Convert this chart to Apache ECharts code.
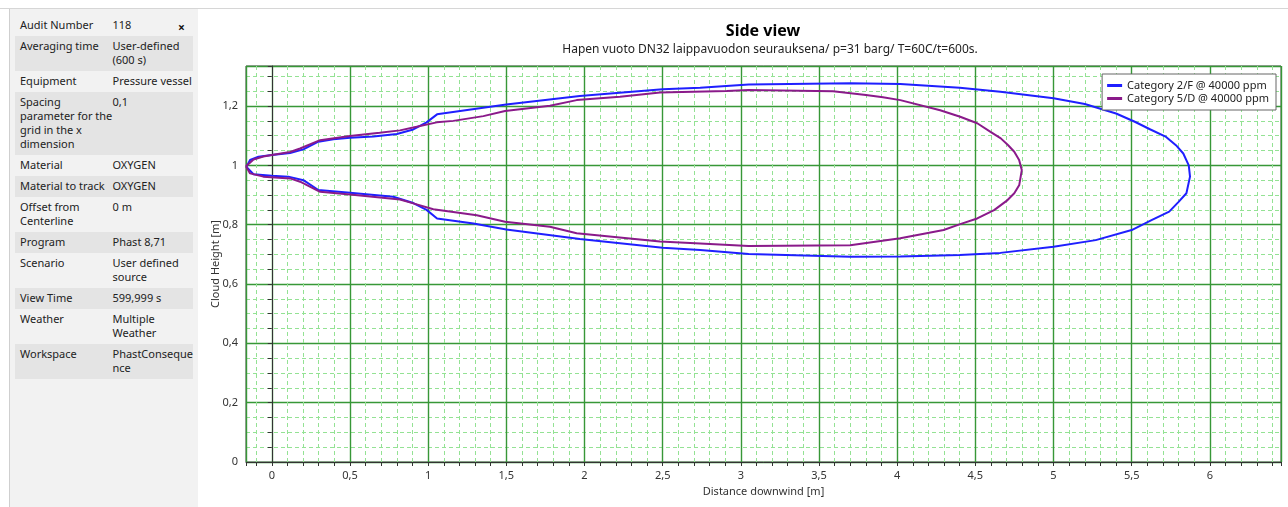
<!DOCTYPE html>
<html>
<head>
<meta charset="utf-8">
<title>Side view</title>
<script src="https://cdn.jsdelivr.net/npm/echarts@6/dist/echarts.min.js"></script>
<style>
  html, body { margin: 0; padding: 0; background: #fff; }
  body { width: 1288px; height: 507px; position: relative; overflow: hidden; font-family: "Noto Sans", sans-serif; }
  #topline { position: absolute; left: 0; top: 8px; width: 1288px; height: 1px; background: #d6d6d6; }
  #panel { position: absolute; left: 9px; top: 9px; width: 188px; height: 498px; background: #f2f2f2; border-left: 1px solid #cfcfcf; z-index: 2; }
  #info { position: absolute; left: 5px; top: 6px; width: 178px; border-collapse: collapse; font-size: 11px; line-height: 14px; color: #222; }
  #info td { vertical-align: top; padding: 3px 0 0 5px; white-space: nowrap; }
  #info td.v { padding-left: 0; }
  #info tr.g { background: #e4e4e4; }
  #close { position: absolute; left: 168px; top: 10px; font-size: 12px; font-weight: bold; color: #111; }
  #chart { position: absolute; left: 0; top: 0; width: 1288px; height: 507px; }
</style>
</head>
<body>
<div id="chart"></div>
<div id="topline"></div>
<div id="panel"><table id="info"></table><div id="close">×</div></div>
<script>
// info panel rows
const infoLabels = ['Audit Number', 'Averaging time', 'Equipment', 'Spacing\nparameter for the\ngrid in the x\ndimension',
  'Material', 'Material to track', 'Offset from\nCenterline', 'Program', 'Scenario', 'View Time', 'Weather', 'Workspace'];
const infoValues = ['118', 'User-defined\n(600 s)', 'Pressure vessel', '0,1', 'OXYGEN', 'OXYGEN', '0 m',
  'Phast 8,71', 'User defined\nsource', '599,999 s', 'Multiple\nWeather', 'PhastConseque\nnce'];

// Category 2/F contour (upper edge left->right, then lower edge back)
const cat2fX = [-0.162, -0.139, -0.085, 0, 0.117, 0.202, 0.298, 0.394, 0.5, 0.65, 0.8, 0.905, 0.99, 1.057, 1.5, 1.97,
  2.5, 2.74, 3.05, 3.7, 4.02, 4.4, 4.66, 5.0, 5.2, 5.4, 5.52, 5.62, 5.72, 5.783, 5.83, 5.865, 5.873, 5.85, 5.80, 5.74,
  5.63, 5.5, 5.27, 5.0, 4.66, 4.4, 4.02, 3.7, 3.05, 2.74, 2.5, 1.97, 1.5, 1.29, 1.057, 0.99, 0.905, 0.777, 0.5, 0.298,
  0.202, 0.106, 0, -0.117, -0.162];
const cat2fY = [0.995, 1.018, 1.029, 1.035, 1.042, 1.054, 1.080, 1.088, 1.093, 1.097, 1.106, 1.121, 1.145, 1.172, 1.205,
  1.234, 1.257, 1.262, 1.273, 1.277, 1.274, 1.262, 1.248, 1.226, 1.207, 1.175, 1.147, 1.121, 1.096, 1.068, 1.040, 1.0,
  0.962, 0.906, 0.877, 0.844, 0.816, 0.782, 0.748, 0.726, 0.705, 0.698, 0.693, 0.692, 0.701, 0.715, 0.722, 0.752,
  0.784, 0.804, 0.821, 0.850, 0.873, 0.894, 0.908, 0.917, 0.950, 0.962, 0.965, 0.970, 0.995];

// Category 5/D contour
const cat5dX = [-0.165, -0.117, -0.054, 0, 0.117, 0.181, 0.309, 0.5, 0.69, 0.82, 0.926, 1.055, 1.161, 1.353, 1.492,
  1.779, 1.95, 2.227, 2.483, 2.909, 3.05, 3.59, 3.80, 3.909, 4.02, 4.275, 4.403, 4.512, 4.597, 4.663, 4.71, 4.749,
  4.78, 4.797, 4.781, 4.749, 4.706, 4.62, 4.512, 4.403, 4.297, 4.02, 3.70, 3.05, 2.74, 2.483, 1.95, 1.779, 1.492,
  1.311, 1.033, 0.905, 0.82, 0.5, 0.309, 0.181, 0.117, -0.054, -0.139, -0.165];
const cat5dY = [0.997, 1.020, 1.030, 1.035, 1.045, 1.057, 1.085, 1.099, 1.110, 1.118, 1.130, 1.145, 1.150, 1.166,
  1.183, 1.201, 1.220, 1.231, 1.246, 1.251, 1.254, 1.250, 1.237, 1.230, 1.220, 1.186, 1.164, 1.142, 1.113, 1.091,
  1.068, 1.046, 1.018, 0.984, 0.934, 0.906, 0.883, 0.849, 0.821, 0.802, 0.782, 0.754, 0.731, 0.728, 0.737, 0.743,
  0.771, 0.793, 0.810, 0.832, 0.852, 0.872, 0.885, 0.902, 0.911, 0.945, 0.956, 0.962, 0.973, 0.997];

const seriesNames = ['Category 2/F @ 40000 ppm', 'Category 5/D @ 40000 ppm'];

// build the info table
const table = document.getElementById('info');
infoLabels.forEach((lab, i) => {
  const lines = Math.max(lab.split('\n').length, infoValues[i].split('\n').length);
  const tr = document.createElement('tr');
  if (i % 2 === 1) tr.className = 'g';
  tr.style.height = (lines === 1 ? 21 : lines * 14 + 7) + 'px';
  const a = document.createElement('td');
  a.style.width = '93px';
  a.innerHTML = lab.split('\n').join('<br>');
  const b = document.createElement('td');
  b.className = 'v';
  b.innerHTML = infoValues[i].split('\n').join('<br>');
  tr.appendChild(a); tr.appendChild(b);
  table.appendChild(tr);
});

const zip = (xs, ys) => xs.map((x, i) => [x, ys[i]]);
const comma = v => String(+v.toFixed(2)).replace('.', ',');
const font = '"Noto Sans", sans-serif';

const chart = echarts.init(document.getElementById('chart'));
const axisCommon = {
  type: 'value',
  nameLocation: 'middle',
  nameMoveOverlap: false,
  nameTextStyle: { fontSize: 11, color: '#333', fontFamily: font },
  axisLine: { show: true, lineStyle: { color: '#333', width: 1 } },
  axisTick: { show: true, length: 4, lineStyle: { color: '#333' } },
  minorTick: { show: true, length: 4, lineStyle: { color: '#333' } },
  axisLabel: { fontSize: 11, color: '#333', fontFamily: font, showMinLabel: false, showMaxLabel: false, formatter: comma },
  splitLine: { show: true, lineStyle: { color: '#379737', width: 1.4 } },
  minorSplitLine: { show: true, lineStyle: { color: '#94e294', width: 1, type: [4, 3] } }
};

chart.setOption({
  animation: false,
  backgroundColor: '#fff',
  title: [
    { text: 'Side view', left: 763, top: 23, padding: 0, textAlign: 'center',
      textStyle: { fontSize: 16, fontWeight: 'bold', color: '#000', fontFamily: font } },
    { text: 'Hapen vuoto DN32 laippavuodon seurauksena/ p=31 barg/ T=60C/t=600s.', left: 770, top: 44, padding: 0,
      textAlign: 'center', textStyle: { fontSize: 12, fontWeight: 'normal', color: '#222', fontFamily: font } }
  ],
  legend: {
    orient: 'vertical', right: 12, top: 74,
    backgroundColor: '#fff', borderColor: '#666', borderWidth: 1,
    padding: [6, 7, 6, 5], itemGap: 2, itemWidth: 15, itemHeight: 3, icon: 'rect',
    textStyle: { fontSize: 11, color: '#222', fontFamily: font },
    data: seriesNames
  },
  grid: { left: 246, right: 7, top: 66, bottom: 45, show: true, borderColor: '#444', borderWidth: 1, backgroundColor: '#fff' },
  xAxis: Object.assign({}, axisCommon, {
    min: -0.165, max: 6.455, splitNumber: 13,
    name: 'Distance downwind [m]', nameGap: 24,
    minorTick: Object.assign({}, axisCommon.minorTick, { splitNumber: 5 })
  }),
  yAxis: Object.assign({}, axisCommon, {
    min: 0, max: 1.335, splitNumber: 7,
    name: 'Cloud Height [m]', nameGap: 25,
    axisLabel: Object.assign({}, axisCommon.axisLabel, { showMinLabel: true }),
    minorTick: Object.assign({}, axisCommon.minorTick, { splitNumber: 4 })
  }),
  series: [
    { name: seriesNames[0], type: 'line', data: zip(cat2fX, cat2fY), showSymbol: false, symbol: 'none',
      lineStyle: { color: '#1f1fff', width: 2 }, itemStyle: { color: '#1f1fff' } },
    { name: seriesNames[1], type: 'line', data: zip(cat5dX, cat5dY), showSymbol: false, symbol: 'none',
      lineStyle: { color: '#8a1a8a', width: 2 }, itemStyle: { color: '#8a1a8a' } }
  ]
});
</script>
</body>
</html>
